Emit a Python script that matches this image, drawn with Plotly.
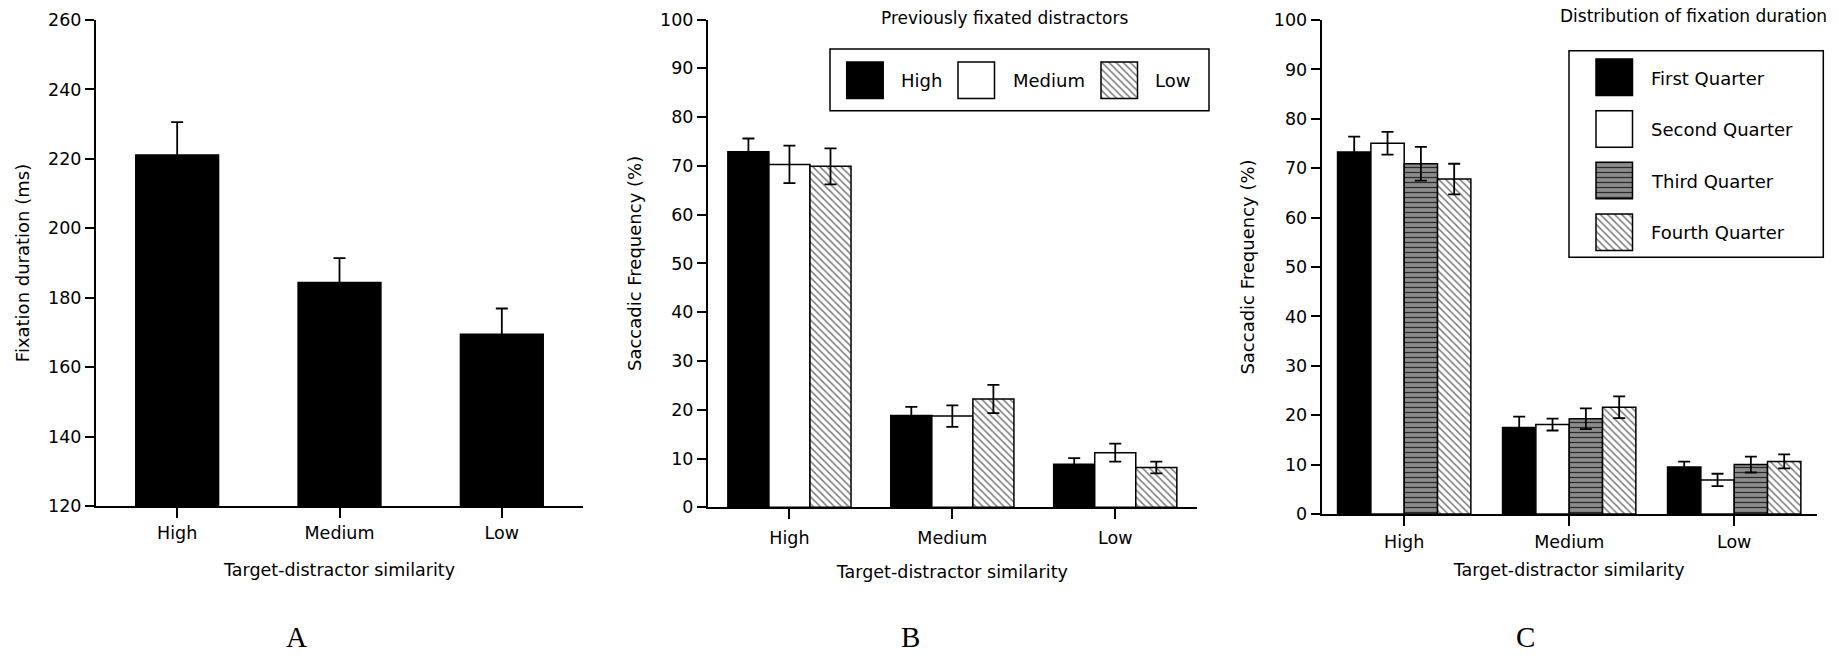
import plotly.graph_objects as go

W, H = 1839, 656
FONT = "DejaVu Sans"

# ---------------- data ----------------
categories = ["High", "Medium", "Low"]

# Panel A: fixation duration (ms)
dur_mean = [221.1, 184.4, 169.5]
dur_err = [9.5, 7.0, 7.4]
dur_ticks = [120, 140, 160, 180, 200, 220, 240, 260]

# Panel B: previously fixated distractors
b_names = ["High", "Medium", "Low"]
b_high = [72.9, 18.8, 8.8]
b_high_err = [2.7, 1.8, 1.3]
b_medium = [70.3, 18.7, 11.2]
b_medium_err = [3.85, 2.2, 1.85]
b_low = [69.9, 22.2, 8.15]
b_low_err = [3.7, 2.9, 1.2]

# Panel C: distribution of fixation duration
c_names = ["First Quarter", "Second Quarter", "Third Quarter", "Fourth Quarter"]
c_first = [73.3, 17.5, 9.5]
c_first_err = [3.1, 2.2, 1.1]
c_second = [75.05, 18.1, 6.9]
c_second_err = [2.3, 1.2, 1.25]
c_third = [70.9, 19.3, 10.0]
c_third_err = [3.4, 2.1, 1.6]
c_fourth = [67.8, 21.6, 10.65]
c_fourth_err = [3.1, 2.2, 1.4]

pct_ticks = [0, 10, 20, 30, 40, 50, 60, 70, 80, 90, 100]

# ---------------- styles ----------------
OUT = dict(color="black", width=1.5)
black_m = dict(color="black", line=OUT)
white_m = dict(color="white", line=OUT)
hatch_m = dict(color="white", line=OUT,
               pattern=dict(shape="\\", fgcolor="#7c7c7c", bgcolor="white",
                            size=5, solidity=0.3))
stripe_m = dict(color="#8c8c8c", line=OUT,
                pattern=dict(shape="-", fgcolor="#2a2a2a", bgcolor="#8c8c8c",
                             size=5, solidity=0.25))


def err(a):
    return dict(type="data", array=a, color="black", thickness=1.8, width=6, visible=True)


def group_layout(n, gap):
    w = (1 - gap) / n
    return w, [-(1 - gap) / 2 + i * w for i in range(n)]


fig = go.Figure()

# Panel A
fig.add_trace(go.Bar(x=categories, y=dur_mean, error_y=err(dur_err), marker=black_m,
                     width=0.51, offset=-0.255, xaxis="x", yaxis="y", showlegend=False))

# Panel B
wb, offb = group_layout(3, 0.244)
for vals, e, m, off, nm in zip([b_high, b_medium, b_low], [b_high_err, b_medium_err, b_low_err],
                               [black_m, white_m, hatch_m], offb, b_names):
    fig.add_trace(go.Bar(x=categories, y=vals, error_y=err(e), marker=m, width=wb, offset=off,
                         name=nm, xaxis="x2", yaxis="y2", showlegend=False))

# Panel C
wc, offc = group_layout(4, 0.192)
for vals, e, m, off, nm in zip([c_first, c_second, c_third, c_fourth],
                               [c_first_err, c_second_err, c_third_err, c_fourth_err],
                               [black_m, white_m, stripe_m, hatch_m], offc, c_names):
    fig.add_trace(go.Bar(x=categories, y=vals, error_y=err(e), marker=m, width=wc, offset=off,
                         name=nm, xaxis="x3", yaxis="y3", showlegend=False))

# ---------------- legends (drawn on a pixel overlay axis) ----------------
SW = 36.5
LEG_B_BOX = (830, 49, 1209, 110.7)
LEG_B_SW_X = [846.7, 958, 1101]
LEG_B_SW_Y = 62
LEG_B_TXT_X = [899, 1010.7, 1153]
LEG_B_TXT_Y = 80

LEG_C_BOX = (1569, 50.7, 1823.3, 257.3)
LEG_C_SW_X = 1596
LEG_C_SW_Y = [59, 110.7, 162.3, 214]
LEG_C_TXT_X = 1649
LEG_C_TXT_Y = [78, 129.5, 181, 232.5]

for sx, m in zip(LEG_B_SW_X, [black_m, white_m, hatch_m]):
    fig.add_trace(go.Bar(x=[sx + SW / 2], y=[SW], base=[LEG_B_SW_Y], width=[SW], marker=m,
                         xaxis="x4", yaxis="y4", showlegend=False, hoverinfo="skip"))
for sy, m in zip(LEG_C_SW_Y, [black_m, white_m, stripe_m, hatch_m]):
    fig.add_trace(go.Bar(x=[LEG_C_SW_X + SW / 2], y=[SW], base=[sy], width=[SW], marker=m,
                         xaxis="x4", yaxis="y4", showlegend=False, hoverinfo="skip"))

annotations = []
for tx, nm in zip(LEG_B_TXT_X, b_names):
    annotations.append(dict(x=tx, y=LEG_B_TXT_Y, text=nm, xref="x4", yref="y4",
                            xanchor="left", yanchor="middle", showarrow=False,
                            font=dict(family=FONT, size=18, color="black")))
for ty, nm in zip(LEG_C_TXT_Y, c_names):
    annotations.append(dict(x=LEG_C_TXT_X, y=ty, text=nm, xref="x4", yref="y4",
                            xanchor="left", yanchor="middle", showarrow=False,
                            font=dict(family=FONT, size=18, color="black")))

# panel titles and letters
annotations += [
    dict(x=1004, y=18, text="Previously fixated distractors", xref="x4", yref="y4",
         showarrow=False, xanchor="center", yanchor="middle",
         font=dict(family=FONT, size=17, color="black")),
    dict(x=1693, y=16, text="Distribution of fixation duration", xref="x4", yref="y4",
         showarrow=False, xanchor="center", yanchor="middle",
         font=dict(family=FONT, size=17, color="black")),
]
for lx, letter in zip([296.7, 910, 1525], ["A", "B", "C"]):
    annotations.append(dict(x=lx, y=637, text=letter, xref="x4", yref="y4", showarrow=False,
                            xanchor="center", yanchor="middle",
                            font=dict(family="Liberation Serif", size=29, color="black")))

shapes = [
    dict(type="rect", xref="x4", yref="y4", x0=LEG_B_BOX[0], y0=LEG_B_BOX[1],
         x1=LEG_B_BOX[2], y1=LEG_B_BOX[3], line=dict(color="black", width=1.5)),
    dict(type="rect", xref="x4", yref="y4", x0=LEG_C_BOX[0], y0=LEG_C_BOX[1],
         x1=LEG_C_BOX[2], y1=LEG_C_BOX[3], line=dict(color="black", width=1.5)),
]

# ---------------- axes ----------------
TICKFONT = dict(family=FONT, size=17.5, color="black")
TITLEFONT = dict(family=FONT, size=18, color="black")


def xax(domain, anchor, lab_standoff, title_standoff):
    return dict(domain=domain, anchor=anchor, type="category", range=[-0.5, 2.5],
                showline=True, linewidth=2, linecolor="black", ticks="outside", ticklen=10,
                tickwidth=1.5, tickcolor="black", tickfont=TICKFONT, showgrid=False,
                zeroline=False, ticklabelstandoff=lab_standoff, automargin=False,
                title=dict(text="Target-distractor similarity", font=TICKFONT,
                           standoff=title_standoff))


def yax(domain, anchor, rng, tickvals, title):
    return dict(domain=domain, anchor=anchor, range=rng, tickvals=tickvals,
                showline=True, linewidth=2, linecolor="black", ticks="outside", ticklen=9,
                tickwidth=1.5, tickcolor="black", tickfont=TICKFONT, showgrid=False,
                zeroline=False, automargin=False,
                title=dict(text=title, font=TITLEFONT, standoff=14))


def px_x(a, b):
    return [a / W, b / W]


def px_y(top, bottom):
    return [1 - bottom / H, 1 - top / H]


fig.update_layout(
    template="none",
    width=W, height=H, margin=dict(l=0, r=0, t=0, b=0, autoexpand=False),
    paper_bgcolor="white", plot_bgcolor="rgba(0,0,0,0)",
    barmode="overlay",
    xaxis=xax(px_x(96, 583), "y", 0, 22),
    yaxis=yax(px_y(20, 506), "x", [120, 260], dur_ticks, "Fixation duration (ms)"),
    xaxis2=xax(px_x(708, 1196.7), "y2", 4, 18),
    yaxis2=yax(px_y(19.5, 507.3), "x2", [0, 100], pct_ticks, "Saccadic Frequency (%)"),
    xaxis3=xax(px_x(1321.7, 1816.7), "y3", 1, 13),
    yaxis3=yax(px_y(20, 514), "x3", [0, 100], pct_ticks, "Saccadic Frequency (%)"),
    xaxis4=dict(domain=[0, 1], anchor="y4", range=[0, W], visible=False, fixedrange=True),
    yaxis4=dict(domain=[0, 1], anchor="x4", range=[H, 0], visible=False, fixedrange=True),
    annotations=annotations, shapes=shapes, showlegend=False,
)

fig.write_html("out.html")
